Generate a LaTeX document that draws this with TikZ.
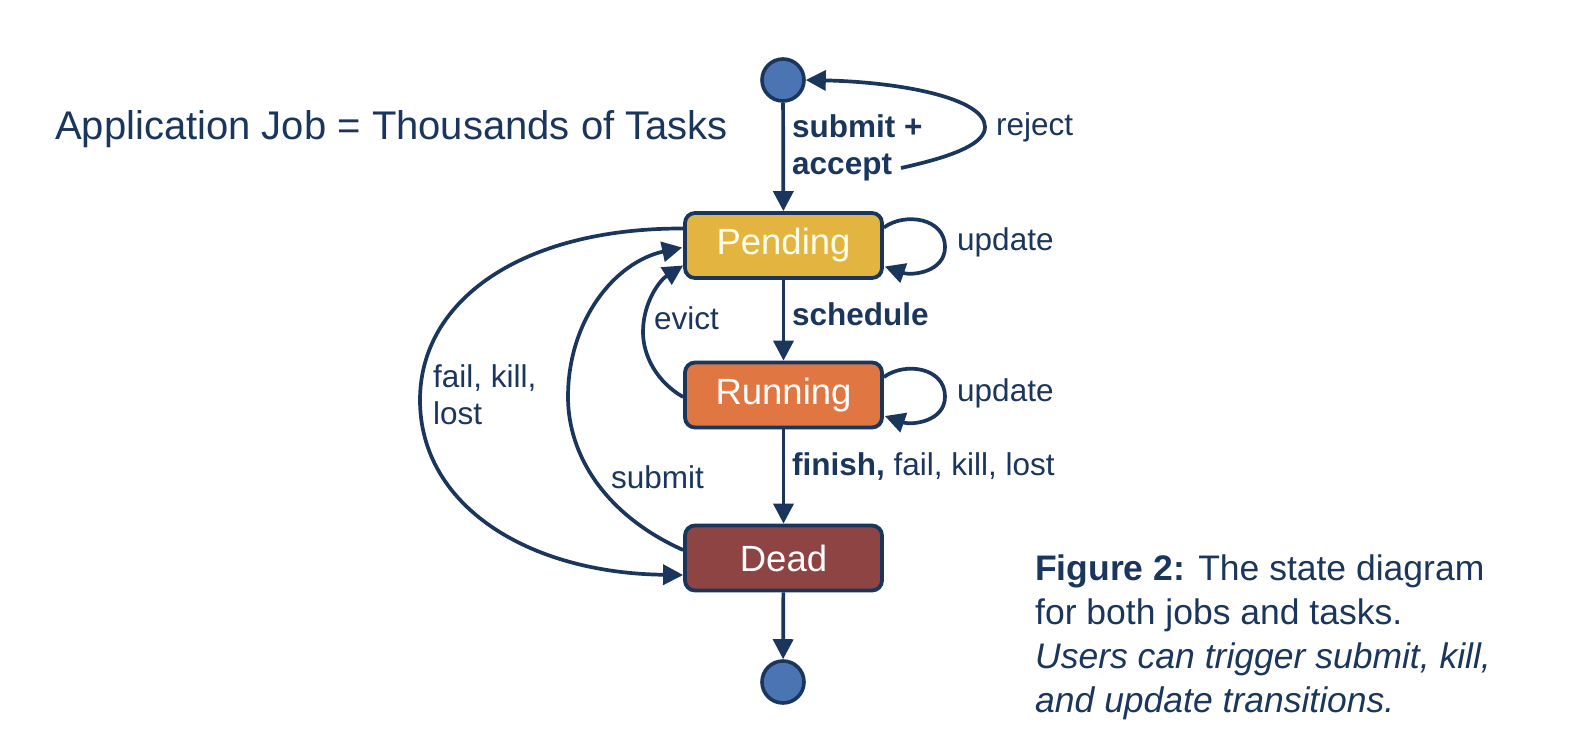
\documentclass[tikz,border=0pt]{standalone}
\usepackage{fontspec}
\setmainfont{Liberation Sans}
\usetikzlibrary{arrows.meta,calc}
\definecolor{navy}{HTML}{1B365D}
\definecolor{circfill}{HTML}{4B74B3}
\definecolor{pendfill}{HTML}{E3B540}
\definecolor{runfill}{HTML}{E07641}
\definecolor{deadfill}{HTML}{8E4443}
\begin{document}
\begin{tikzpicture}[x=1pt,y=-1pt,
  state/.style={draw=navy,line width=3.8pt,rounded corners=10pt,minimum width=197pt,minimum height=65pt,inner sep=0pt,text=white,font=\fontsize{36.5}{40}\selectfont},
  term/.style={circle,draw=navy,line width=3.6pt,fill=circfill,minimum size=42pt,inner sep=0pt},
  conn/.style={draw=navy,line width=3.7pt,-{Triangle[length=20pt,width=20pt]}},
  lbl/.style={text=navy,font=\fontsize{31.5}{37}\selectfont,inner sep=0pt,anchor=west,align=left}]
\useasboundingbox (0,0) rectangle (1582,740);
\fill[white] (0,0) rectangle (1582,740);

\node[term] (start) at (783,80) {};
\node[state,fill=pendfill,text={white!92!yellow}] (pend) at (783.5,245.5) {Pending};
\node[state,fill=runfill] (run) at (783.5,395) {Running};
\node[state,fill=deadfill] (dead) at (783.5,558) {Dead};
\node[term] (end) at (783,682) {};

\node[text=navy,font=\fontsize{40}{46}\selectfont,anchor=west,inner sep=0pt] (title) at (55,129) {Application Job = Thousands of Tasks};

% straight transitions
\draw[conn] (start) -- (pend);
\draw[conn] (pend) -- (run);
\draw[conn] (run) -- (dead);
\draw[conn] (dead) -- (end);

\node[lbl,font=\fontsize{31.5}{37}\selectfont\bfseries] (lsub) at (792,148) {submit +\\accept};
\node[lbl,font=\fontsize{31.5}{37}\selectfont\bfseries] (lsch) at (792,314) {schedule};
\node[lbl] (lfin) at (792,467) {\textbf{finish,} fail, kill, lost};

% reject
\coordinate (rejs) at (901,168);
\draw[conn] (rejs) .. controls (960,155) and (985,142) .. (985,127)
   .. controls (985,98) and (900,82) .. (start.east);
\node[lbl] (lrej) at (996,127) {reject};

% self loops
\draw[conn] ($(pend.east)+(0,-18)$) .. controls (905,212) and (945,218) .. (945,247)
   .. controls (945,272) and (912,276) .. ($(pend.east)+(1,21)$);
\node[lbl] (lup1) at (957,242) {update};
\draw[conn] ($(run.east)+(0,-18)$) .. controls (905,361.5) and (945,367.5) .. (945,396.5)
   .. controls (945,421.5) and (912,425.5) .. ($(run.east)+(1,21)$);
\node[lbl] (lup2) at (957,393) {update};

% evict
\draw[conn] ($(run.west)+(0,2)$) .. controls (657,382) and (643,356) .. (643,332)
   .. controls (643,302) and (660,280) .. ($(pend.west)+(0,20)$);
\node[lbl] (lev) at (654,318) {evict};

% submit
\draw[conn] ($(dead.west)+(0,-8)$) .. controls (605,515) and (568,455) .. (568,397)
   .. controls (568,320) and (615,262) .. ($(pend.west)+(-1,2)$);
\node[lbl] (lsm) at (611,477) {submit};

% fail kill lost
\draw[conn] ($(pend.west)+(0,-17)$) .. controls (522,228) and (420,300) .. (420,400)
   .. controls (420,505) and (527,573) .. ($(dead.west)+(0,17)$);
\node[lbl] (lfk) at (433,395) {fail, kill,\\lost};

% caption
\node[text=navy,font=\fontsize{35.5}{43.7}\selectfont,anchor=north west,inner sep=0pt,align=left] (cap) at (1035,555)
 {\textbf{Figure 2:} The state diagram\\for both jobs and tasks.\\\textit{Users can trigger submit, kill,}\\\textit{and update transitions.}};
\end{tikzpicture}
\end{document}
